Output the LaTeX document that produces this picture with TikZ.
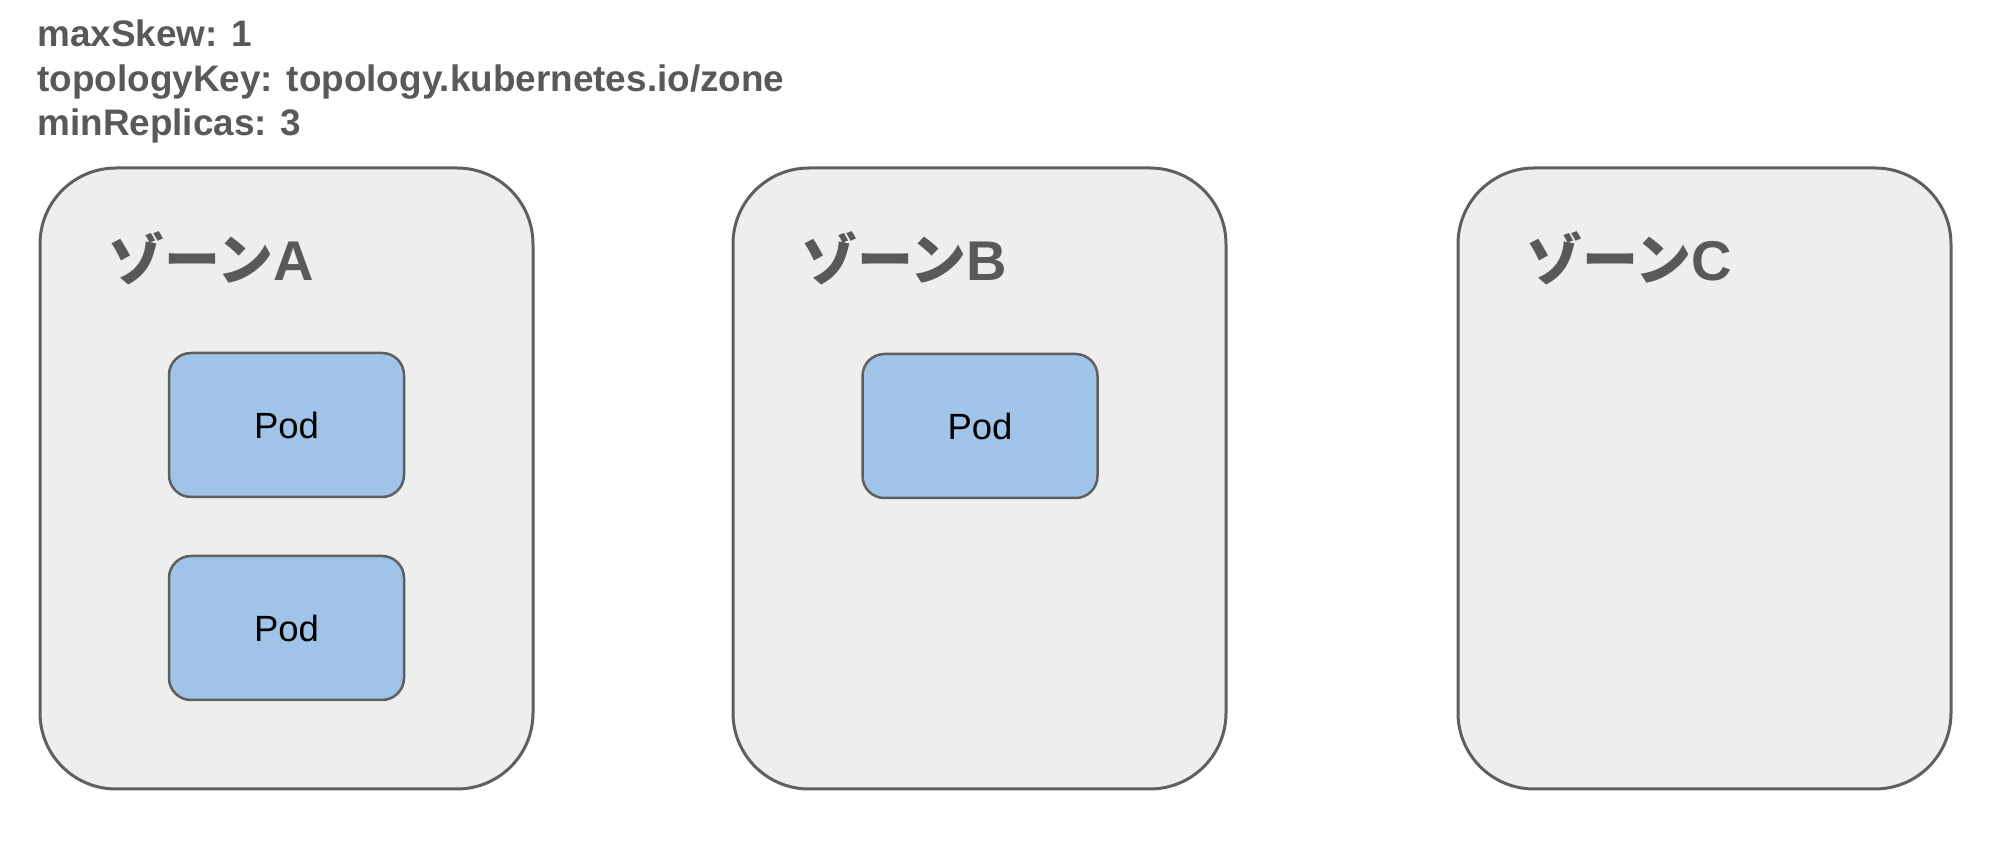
\documentclass[tikz,border=0pt]{standalone}
\usepackage{fontspec}
\setmainfont{Liberation Sans}
\newfontfamily\jp{Noto Sans CJK JP}
\definecolor{zonefill}{HTML}{EEEEEE}
\definecolor{edgegray}{HTML}{5F5F5F}
\definecolor{textgray}{HTML}{595959}
\definecolor{podfill}{HTML}{A0C4E8}
\tikzset{
  zone/.style={draw=edgegray, fill=zonefill, line width=1.5pt, rounded corners=38pt,
    minimum width=246.5pt, minimum height=310.5pt, inner sep=0pt, outer sep=0pt, anchor=north west},
  pod/.style={draw=edgegray, fill=podfill, line width=1.25pt, rounded corners=11pt,
    minimum width=117.5pt, minimum height=72pt, inner sep=0pt, outer sep=0pt,
    font=\fontsize{18.25pt}{20pt}\selectfont, text=black},
  zlabel/.style={anchor=base west, inner sep=0pt, text=textgray,
    font=\fontsize{28pt}{30pt}\selectfont\bfseries},
  param/.style={anchor=base west, inner sep=0pt, text=textgray,
    font=\fontsize{18.45pt}{22pt}\selectfont\bfseries}
}
\begin{document}
\begin{tikzpicture}[x=0.5pt, y=-0.5pt]
\useasboundingbox (0,0) rectangle (1999,860);
% parameters
\node[param] (t1) at (37,47) {maxSkew: 1};
\node[param] (t2) at (37,91.5) {topologyKey: topology.kubernetes.io/zone};
\node[param] (t3) at (37,136) {minReplicas: 3};
% zones
\node[zone] (zA) at (40,168) {};
\node[zone] (zB) at (733,168) {};
\node[zone] (zC) at (1458,168) {};
\node[zlabel] (lA) at (108,281) {{\jp ゾーン}A};
\node[zlabel] (lB) at (801,281) {{\jp ゾーン}B};
\node[zlabel] (lC) at (1526,281) {{\jp ゾーン}C};
% pods
\node[pod] (pA1) at (286.5,425) {Pod};
\node[pod] (pA2) at (286.5,628) {Pod};
\node[pod] (pB1) at (980,426) {Pod};
\end{tikzpicture}
\end{document}
